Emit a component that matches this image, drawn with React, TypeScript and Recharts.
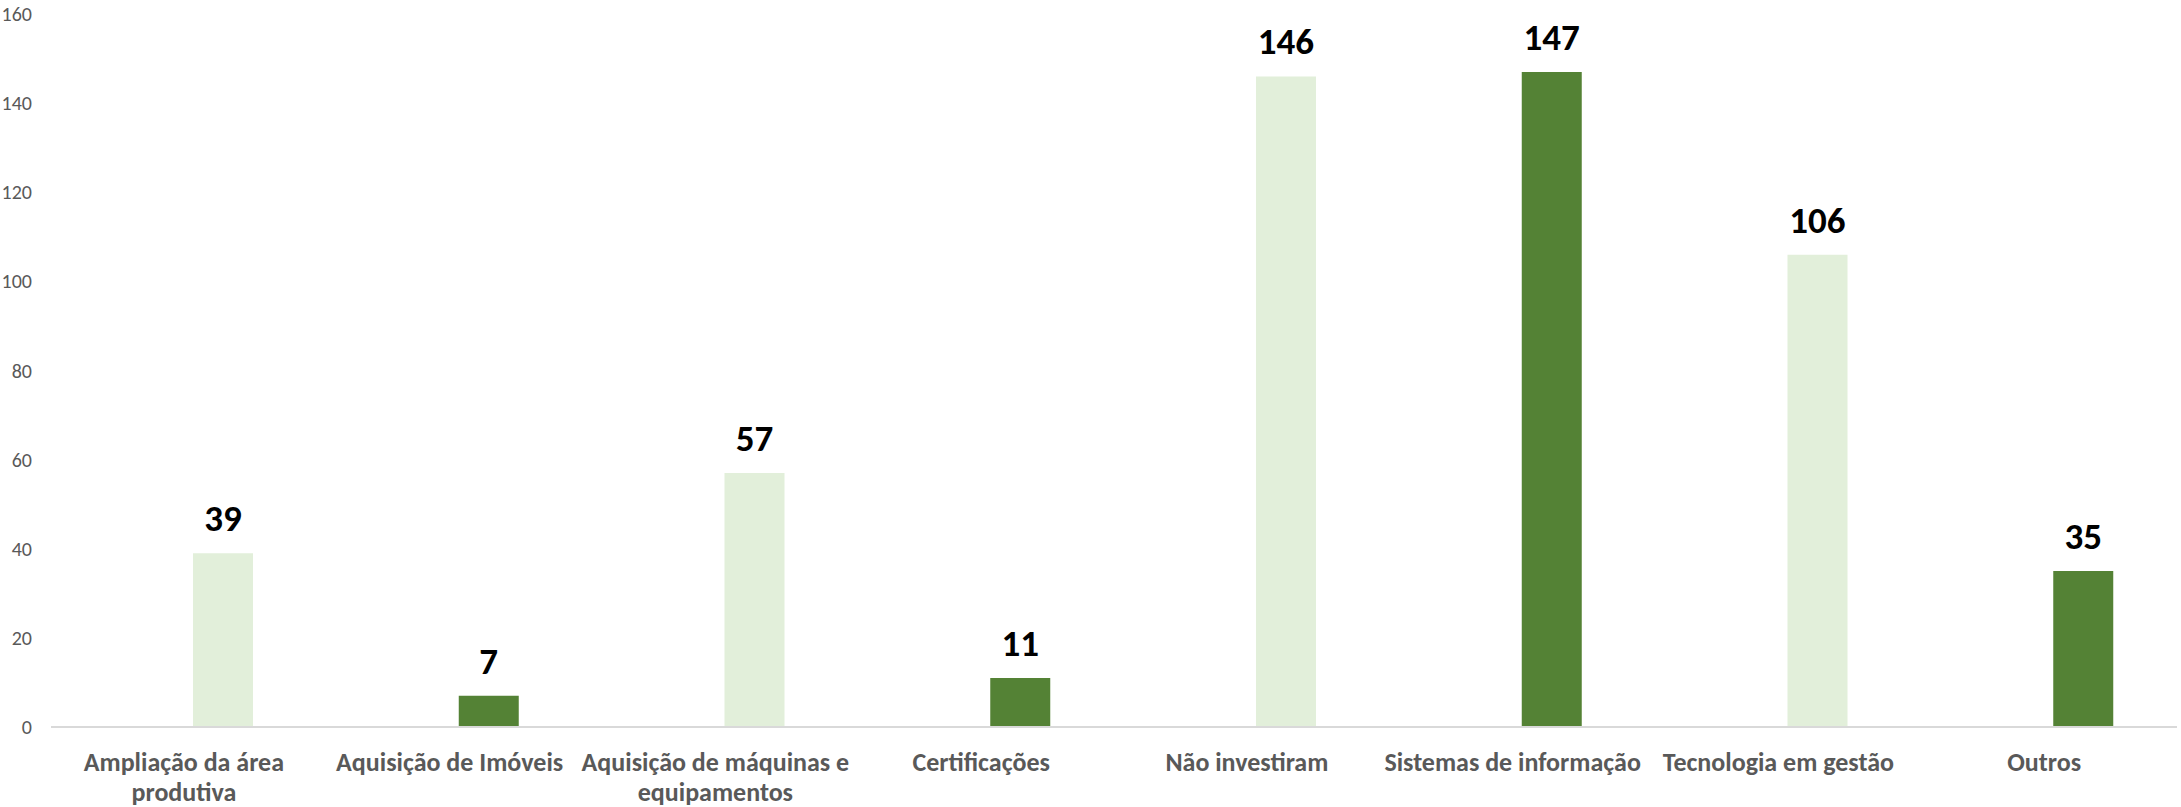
import React from 'react';
import { BarChart, Bar, XAxis, YAxis, Cell, LabelList } from 'recharts';

const categories = [
  'Ampliação da área\nprodutiva',
  'Aquisição de Imóveis',
  'Aquisição de máquinas e\nequipamentos',
  'Certificações',
  'Não investiram',
  'Sistemas de informação',
  'Tecnologia em gestão',
  'Outros',
];
const values = [39, 7, 57, 11, 146, 147, 106, 35];
const emptySeries = [0, 0, 0, 0, 0, 0, 0, 0];
const barColors = ['#E2EFDA', '#548235', '#E2EFDA', '#548235', '#E2EFDA', '#548235', '#E2EFDA', '#548235'];
const yTicks = [0, 20, 40, 60, 80, 100, 120, 140, 160];

const data = categories.map((c, i) => ({ name: c, empty: emptySeries[i], value: values[i] }));

const FONT = 'Carlito, Calibri, Lato, sans-serif';

const CategoryTick = (props: any) => {
  const { x, y, payload } = props;
  const lines = String(payload.value).split('\n');
  return (
    <g transform={`translate(${x},${y})`}>
      <text textAnchor="middle" fill="#595959" fontFamily={FONT} fontWeight={700} fontSize={26}>
        {lines.map((l, i) => (
          <tspan key={i} x={0} dy={i === 0 ? 44 : 30}>
            {l}
          </tspan>
        ))}
      </text>
    </g>
  );
};

export default function App() {
  return (
    <div style={{ position: 'fixed', left: 0, top: 0, width: 2181, height: 807, background: '#fff' }}>
      <BarChart
        width={2181}
        height={807}
        data={data}
        margin={{ top: 14, right: 4, bottom: 0, left: 0 }}
        barGap={18}
        barCategoryGap={0}
      >
        <XAxis
          dataKey="name"
          interval={0}
          tickLine={false}
          tickSize={0}
          tickMargin={0}
          height={80}
          axisLine={{ stroke: '#D9D9D9', strokeWidth: 2 }}
          tick={<CategoryTick />}
        />
        <YAxis
          width={51}
          domain={[0, 160]}
          ticks={yTicks}
          axisLine={false}
          tickLine={false}
          tickSize={0}
          tickMargin={19}
          tick={{ fill: '#595959', fontSize: 20, fontFamily: FONT }}
        />
        <Bar dataKey="empty" barSize={60} isAnimationActive={false} fill="transparent" />
        <Bar dataKey="value" barSize={60} isAnimationActive={false}>
          {data.map((d, i) => (
            <Cell key={i} fill={barColors[i]} />
          ))}
          <LabelList
            dataKey="value"
            position="top"
            offset={22}
            fill="#000"
            fontSize={37}
            fontWeight={700}
            fontFamily={FONT}
          />
        </Bar>
      </BarChart>
    </div>
  );
}
